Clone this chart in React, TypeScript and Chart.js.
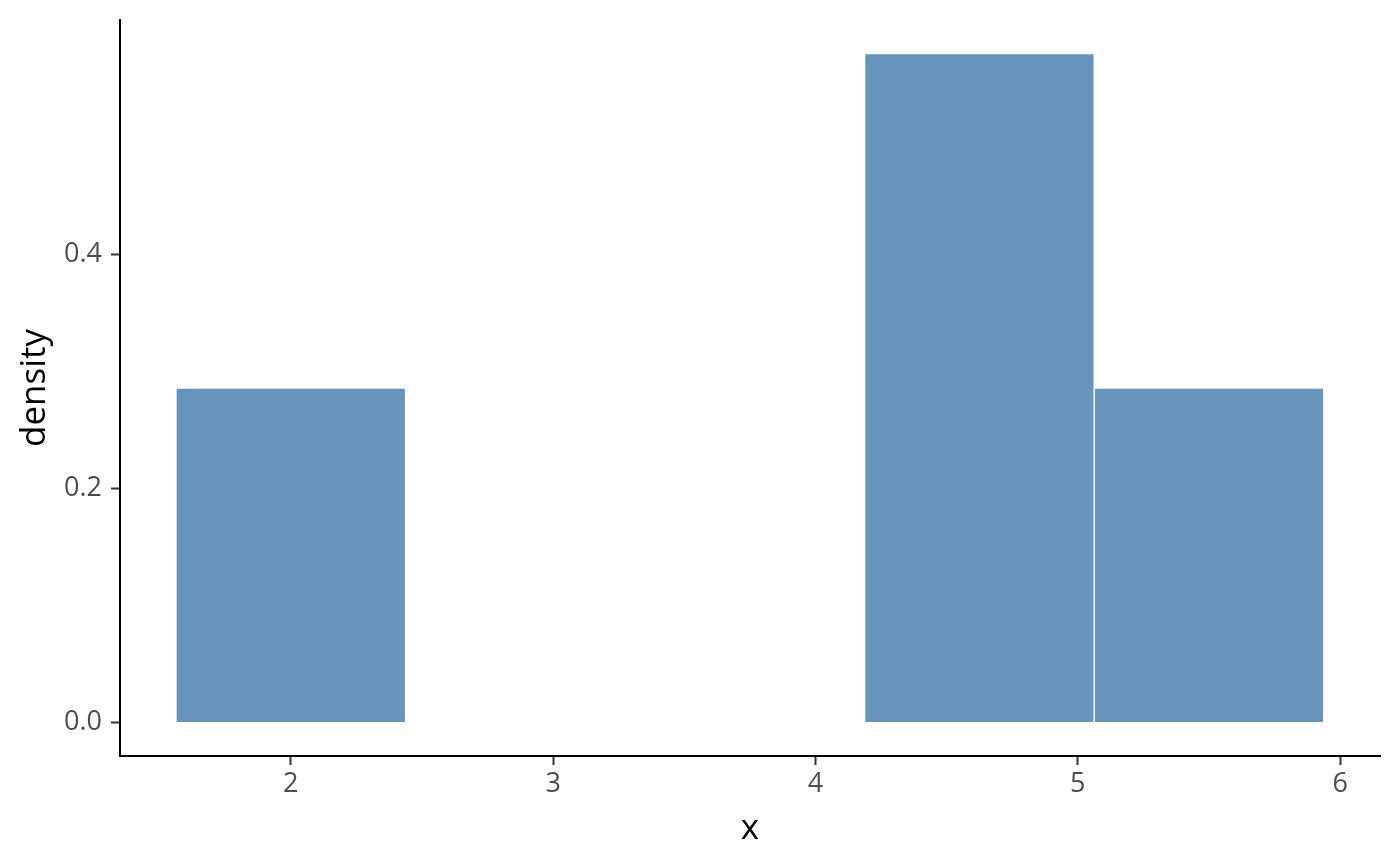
import React, { useEffect, useRef } from "react";
import { Chart, registerables } from "chart.js";

Chart.register(...registerables);

// Histogram bins (centres) and densities
const binCenters = [2.0, 2.875, 3.75, 4.625, 5.5];
const densities = [0.2857, 0, 0, 0.5714, 0.2857];
const xTicks = [2, 3, 4, 5, 6];
const yTicks = [0, 0.2, 0.4];
const xRange = [1.349, 6.152];
const yRange = [-0.0286, 0.6];

const FONT = "'Open Sans', 'Noto Sans', 'DejaVu Sans', sans-serif";

export default function App() {
  const ref = useRef<HTMLCanvasElement | null>(null);
  useEffect(() => {
    if (!ref.current) return;
    const chart = new Chart(ref.current, {
      type: "bar",
      data: {
        datasets: [
          {
            data: binCenters.map((x, i) => ({ x, y: densities[i] })),
            backgroundColor: "#6893BA",
            borderColor: "#FFFFFF",
            borderWidth: 1,
            barPercentage: 1,
            categoryPercentage: 1,
          },
        ],
      },
      options: {
        responsive: false,
        animation: false,
        layout: { padding: { top: 20, right: 20, left: 0, bottom: 0 } },
        plugins: { legend: { display: false }, tooltip: { enabled: false } },
        scales: {
          x: {
            type: "linear",
            min: xRange[0],
            max: xRange[1],
            offset: false,
            afterBuildTicks: (s: any) => {
              s.ticks = xTicks.map((v) => ({ value: v }));
            },
            afterFit: (s: any) => {
              s.height = 109;
              s.paddingLeft = 0;
              s.paddingRight = 0;
            },
            grid: {
              display: true,
              offset: false,
              drawOnChartArea: false,
              drawTicks: true,
              tickLength: 9,
              tickColor: "#333333",
              tickWidth: 2,
            },
            border: { display: true, color: "#000000", width: 2 },
            ticks: {
              color: "#4D4D4D",
              font: { family: FONT, size: 27 },
              padding: 3,
              maxRotation: 0,
              callback: (v: any) => String(v),
            },
            title: {
              display: true,
              text: "x",
              color: "#000000",
              font: { family: FONT, size: 35 },
              padding: { top: 0, bottom: 15 },
            },
          },
          y: {
            type: "linear",
            min: yRange[0],
            max: yRange[1],
            afterBuildTicks: (s: any) => {
              s.ticks = yTicks.map((v) => ({ value: v }));
            },
            afterFit: (s: any) => {
              s.width = 120;
              s.paddingTop = 0;
              s.paddingBottom = 0;
            },
            grid: {
              display: true,
              drawOnChartArea: false,
              drawTicks: true,
              tickLength: 9,
              tickColor: "#333333",
              tickWidth: 2,
            },
            border: { display: true, color: "#000000", width: 2 },
            ticks: {
              color: "#4D4D4D",
              font: { family: FONT, size: 27 },
              padding: 9,
              callback: (v: any) => Number(v).toFixed(1),
            },
            title: {
              display: true,
              text: "density",
              color: "#000000",
              font: { family: FONT, size: 35 },
              padding: { top: 14, bottom: 0 },
            },
          },
        },
      },
    });
    return () => chart.destroy();
  }, []);
  return (
    <div style={{ position: "absolute", left: 0, top: 0, width: 1400, height: 865, background: "#fff" }}>
      <canvas ref={ref} width={1400} height={865} style={{ display: "block" }} />
    </div>
  );
}
